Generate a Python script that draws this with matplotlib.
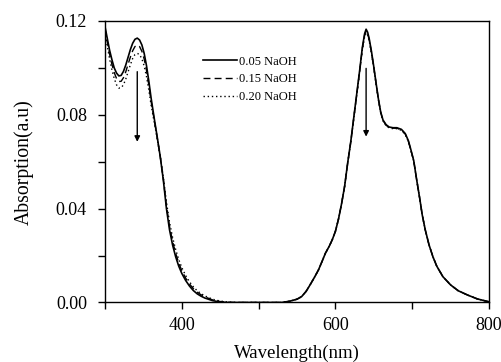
import matplotlib
matplotlib.use("Agg")
import matplotlib.pyplot as plt
from matplotlib.ticker import MultipleLocator

# --- data ---
# UV band (Soret-like region)
wl_uv = [300, 303, 306, 309, 312, 315, 318, 321, 324, 327, 330, 333, 336, 339, 342, 345,
         348, 351, 354, 357, 360, 364, 368, 372, 376, 380, 384, 388, 392, 396, 400, 405,
         410, 415, 420, 425, 430, 440, 450, 460, 470, 500]
uv_005 = [0.1176, 0.1125, 0.1075, 0.1035, 0.1000, 0.0978, 0.0966, 0.0968, 0.0985, 0.1012,
          0.1045, 0.1078, 0.1105, 0.1122, 0.1127, 0.1119, 0.1098, 0.1062, 0.1010, 0.0945,
          0.0872, 0.0787, 0.0705, 0.0620, 0.0520, 0.0400, 0.0310, 0.0245, 0.0195, 0.0155,
          0.0124, 0.0094, 0.0070, 0.0051, 0.0037, 0.0027, 0.0019, 0.0008, 0.0002, 0.0,
          0.0, 0.0]
uv_015 = [0.1168, 0.1110, 0.1058, 0.1015, 0.0980, 0.0955, 0.0942, 0.0943, 0.0958, 0.0983,
          0.1015, 0.1046, 0.1073, 0.1091, 0.1097, 0.1091, 0.1071, 0.1038, 0.0990, 0.0928,
          0.0858, 0.0780, 0.0702, 0.0620, 0.0525, 0.0412, 0.0325, 0.0260, 0.0210, 0.0168,
          0.0136, 0.0104, 0.0079, 0.0059, 0.0044, 0.0033, 0.0024, 0.0011, 0.0004, 0.0001,
          0.0, 0.0]
uv_020 = [0.1155, 0.1092, 0.1038, 0.0992, 0.0955, 0.0928, 0.0914, 0.0915, 0.0928, 0.0952,
          0.0983, 0.1013, 0.1040, 0.1057, 0.1062, 0.1057, 0.1039, 0.1008, 0.0964, 0.0907,
          0.0842, 0.0770, 0.0698, 0.0622, 0.0532, 0.0428, 0.0342, 0.0277, 0.0226, 0.0183,
          0.0149, 0.0115, 0.0088, 0.0067, 0.0050, 0.0038, 0.0028, 0.0014, 0.0006, 0.0002,
          0.0, 0.0]

# visible band (Q-like region)
wl_vis = [530, 540, 550, 556, 562, 567, 572, 578, 583, 587, 592, 596, 600, 604, 608, 612,
          616, 620, 624, 628, 632, 635, 638, 640, 642, 644, 647, 650, 653, 656, 659, 662,
          666, 670, 675, 680, 686, 691, 695, 698, 702, 706, 710, 713, 717, 722, 727, 732,
          740, 750, 760, 772, 785, 800]
vis_005 = [0.0, 0.0005, 0.0014, 0.0025, 0.0048, 0.0075, 0.0103, 0.0139, 0.0178, 0.0210,
           0.0240, 0.0268, 0.0303, 0.0355, 0.0420, 0.0495, 0.0595, 0.0685, 0.0790, 0.0895,
           0.1000, 0.1085, 0.1145, 0.1165, 0.1152, 0.1125, 0.1070, 0.1005, 0.0935, 0.0868,
           0.0812, 0.0778, 0.0758, 0.0748, 0.0745, 0.0745, 0.0738, 0.0720, 0.0690, 0.0655,
           0.0605, 0.0520, 0.0440, 0.0375, 0.0310, 0.0245, 0.0195, 0.0155, 0.0110, 0.0075,
           0.0050, 0.0032, 0.0015, 0.0003]
vis_015 = [0.0, 0.0005, 0.0014, 0.0025, 0.0048, 0.0075, 0.0103, 0.0139, 0.0178, 0.0210,
           0.0240, 0.0268, 0.0303, 0.0355, 0.0420, 0.0495, 0.0594, 0.0684, 0.0788, 0.0892,
           0.0996, 0.1080, 0.1138, 0.1158, 0.1146, 0.1120, 0.1066, 0.1002, 0.0933, 0.0866,
           0.0810, 0.0776, 0.0756, 0.0746, 0.0743, 0.0743, 0.0736, 0.0718, 0.0688, 0.0653,
           0.0604, 0.0520, 0.0440, 0.0375, 0.0310, 0.0245, 0.0195, 0.0155, 0.0110, 0.0075,
           0.0050, 0.0032, 0.0015, 0.0003]
vis_020 = [0.0, 0.0005, 0.0014, 0.0025, 0.0048, 0.0075, 0.0103, 0.0139, 0.0178, 0.0210,
           0.0240, 0.0268, 0.0303, 0.0355, 0.0420, 0.0495, 0.0593, 0.0682, 0.0786, 0.0889,
           0.0992, 0.1075, 0.1132, 0.1150, 0.1140, 0.1115, 0.1062, 0.0999, 0.0931, 0.0864,
           0.0808, 0.0774, 0.0754, 0.0744, 0.0741, 0.0741, 0.0734, 0.0716, 0.0686, 0.0651,
           0.0603, 0.0520, 0.0440, 0.0375, 0.0310, 0.0245, 0.0195, 0.0155, 0.0110, 0.0075,
           0.0050, 0.0032, 0.0015, 0.0003]

labels = ["0.05 NaOH", "0.15 NaOH", "0.20 NaOH"]

# arrows showing the decrease with NaOH (x, y_start, y_end)
arrow_uv = (342, 0.0984, 0.0685)
arrow_vis = (640, 0.0998, 0.0707)

plt.rcParams['font.family'] = ['Liberation Serif', 'DejaVu Serif']

fig = plt.figure(figsize=(5.01, 3.62), dpi=100)
ax = fig.add_axes([0.2096, 0.1644, 0.7664, 0.7776])

wavelength = wl_uv + wl_vis
ax.plot(wavelength, uv_005 + vis_005, color='black', lw=1.2, ls='-', label=labels[0])
ax.plot(wavelength, uv_015 + vis_015, color='black', lw=1.0, ls=(0, (5, 3)), label=labels[1])
ax.plot(wavelength, uv_020 + vis_020, color='black', lw=1.0, ls=(0, (1, 2)), label=labels[2])

for xa, y0, y1 in [arrow_uv, arrow_vis]:
    ax.annotate('', xy=(xa, y1), xytext=(xa, y0),
                arrowprops=dict(arrowstyle='-|>', color='black', lw=1.0,
                                mutation_scale=8, shrinkA=0, shrinkB=0))

ax.set_xlim(300, 800)
ax.set_ylim(0, 0.12)
ax.set_xticks([400, 600, 800])
ax.xaxis.set_minor_locator(MultipleLocator(100))
ax.yaxis.set_major_locator(MultipleLocator(0.04))
ax.yaxis.set_minor_locator(MultipleLocator(0.02))
ax.yaxis.set_major_formatter(plt.FuncFormatter(lambda v, p: f"{v:.2f}"))
ax.tick_params(which='both', direction='out', length=5, width=1, top=False, right=False,
               labelsize=13)
ax.tick_params(axis='y', pad=8)
ax.tick_params(axis='x', pad=5.5)
for s in ax.spines.values():
    s.set_linewidth(1.0)

ax.set_xlabel("Wavelength(nm)", fontsize=13.5, labelpad=7.5)
ax.set_ylabel("Absorption(a.u)", fontsize=14.2, labelpad=16)

ax.legend(loc='upper left', bbox_to_anchor=(0.405, 0.846), bbox_transform=fig.transFigure,
          frameon=False, fontsize=9, handlelength=2.7, handletextpad=0.15,
          labelspacing=0.45, borderpad=0, borderaxespad=0)

fig.savefig("out.png", dpi=100)
